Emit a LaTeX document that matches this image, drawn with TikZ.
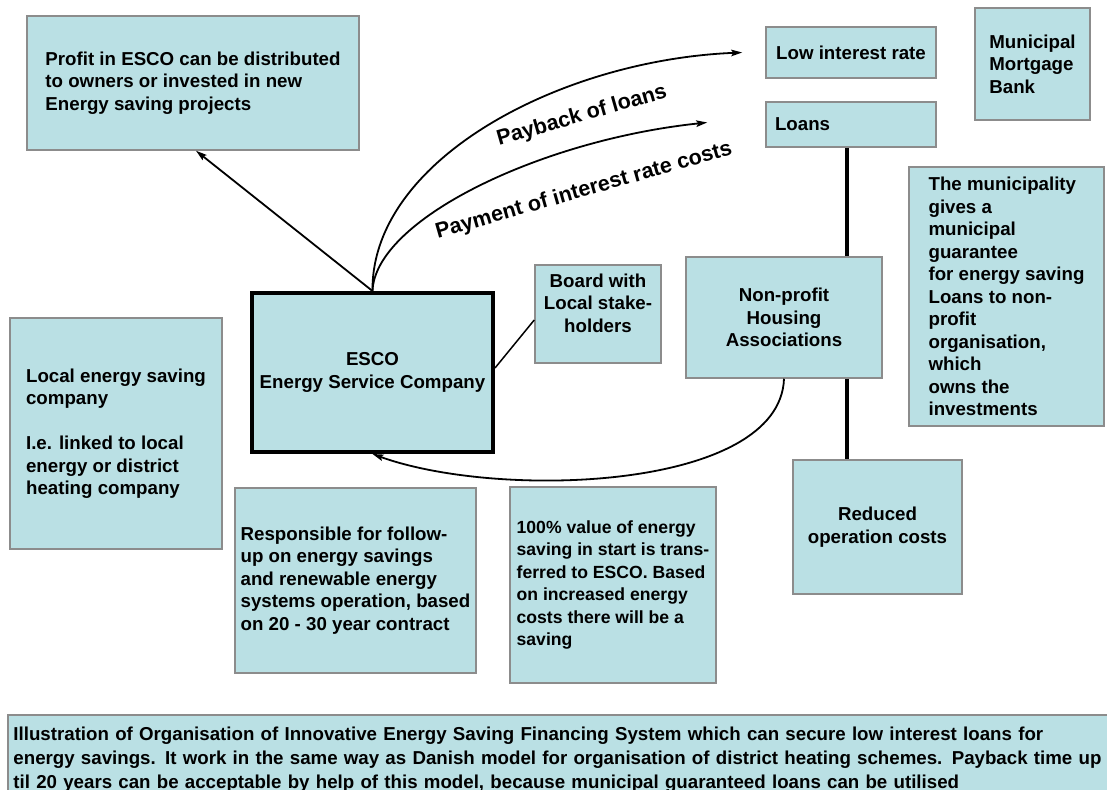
\documentclass[tikz,border=0pt]{standalone}
\usepackage{fontspec}
\setmainfont{Liberation Sans}
\usetikzlibrary{arrows.meta}
\definecolor{boxfill}{RGB}{186,224,228}
\definecolor{boxline}{RGB}{140,140,140}
\begin{document}
\begin{tikzpicture}[x=1pt,y=-1pt,
  box/.style={draw=boxline, line width=1.5pt, fill=boxfill, inner sep=0pt,
    font=\bfseries\fontsize{18.7}{22.5}\selectfont},
  escobox/.style={box, draw=black, line width=4pt},
  conn/.style={draw=black, line width=1.8pt},
  tip/.style={-{Stealth[length=11pt,width=6.5pt,inset=2pt]}},
  lbl/.style={inner sep=0pt, font=\bfseries\fontsize{21.5}{26}\selectfont},
]
\useasboundingbox (0,0) rectangle (1107,789);

% boxes
\node[box, minimum width=332pt, minimum height=134pt, align=left] (profit) at (193,83)
  {Profit in ESCO can be distributed\\to owners or invested in new\\Energy saving projects};
\node[box, minimum width=170pt, minimum height=51pt, align=left] (low) at (851,52.5)
  {Low interest rate};
\node[box, minimum width=115pt, minimum height=112pt, align=left] (mortgage) at (1032.5,64)
  {Municipal\\Mortgage\\Bank};
\node[box, minimum width=170pt, minimum height=45pt, text width=152pt, align=left] (loans) at (851,124.5)
  {Loans};
\node[box, minimum width=195pt, minimum height=259pt, align=left] (muni) at (1006.5,296.5)
  {The municipality\\gives a\\municipal\\guarantee\\for energy saving\\Loans to non-\\profit\\organisation,\\which\\owns the\\investments};
\node[box, minimum width=126pt, minimum height=98pt, align=center] (board) at (598,314)
  {Board with\\Local stake-\\holders\\\mbox{}};
\node[box, minimum width=196pt, minimum height=121pt, align=center] (nonprofit) at (784,317.5)
  {Non-profit\\Housing\\Associations};
\node[escobox, minimum width=241pt, minimum height=159pt, align=center] (esco) at (372.5,372.5)
  {ESCO\\Energy Service Company};
\node[box, minimum width=212pt, minimum height=231pt, align=left] (local) at (116,433.5)
  {Local energy saving\\company\\[22.5pt]I.e. linked to local\\energy or district\\heating company};
\node[box, minimum width=241pt, minimum height=185pt, align=left] (resp) at (355.5,580.5)
  {Responsible for follow-\\up on energy savings\\and renewable energy\\systems operation, based\\on 20 - 30 year contract};
\node[box, minimum width=206pt, minimum height=196pt, align=left,
  font=\bfseries\fontsize{17.6}{22.5}\selectfont] (hundred) at (613,585)
  {100\% value of energy\\saving in start is trans-\\ferred to ESCO. Based\\on increased energy\\costs there will be a\\saving};
\node[box, minimum width=169pt, minimum height=134pt, align=center] (reduced) at (877.5,527)
  {Reduced\\operation costs};
\node[box, anchor=north west, text width=1100pt, align=left, inner xsep=5.7pt, inner ysep=12pt,
  font=\bfseries\fontsize{18.7}{24}\selectfont] (caption) at (7,714)
  {Illustration of Organisation of Innovative Energy Saving Financing System which can secure low interest loans for\\
   energy savings. It work in the same way as Danish model for organisation of district heating schemes. Payback time up\\
   til 20 years can be acceptable by help of this model, because municipal guaranteed loans can be utilised};

% connectors
\draw[conn, tip] (esco.north) -- ([xshift=3pt]profit.south);
\draw[conn, tip] (esco.north) .. controls (371,160) and (560,60) .. ([xshift=-23pt]low.west);
\draw[conn, tip] (esco.north) .. controls (375,220) and (540,140) .. ([xshift=-58pt,yshift=2pt]loans.west);
\draw[conn, tip] (nonprofit.south) .. controls (780,490) and (500,500) .. (esco.south);
\draw[draw=black, line width=1.5pt] ([yshift=4.5pt]esco.east) -- ([yshift=-6pt]board.west);
\coordinate (vline) at ([xshift=-4pt]loans.south);
\draw[draw=black, line width=3.5pt] (vline) -- (vline |- nonprofit.north);
\draw[draw=black, line width=3.5pt] (vline |- nonprofit.south) -- (vline |- reduced.north);

% labels
\node[lbl, rotate=16] (paybackLbl) at (582,116) {Payback of loans};
\node[lbl, rotate=16] (paymentLbl) at (584,191) {Payment of interest rate costs};
\end{tikzpicture}
\end{document}
